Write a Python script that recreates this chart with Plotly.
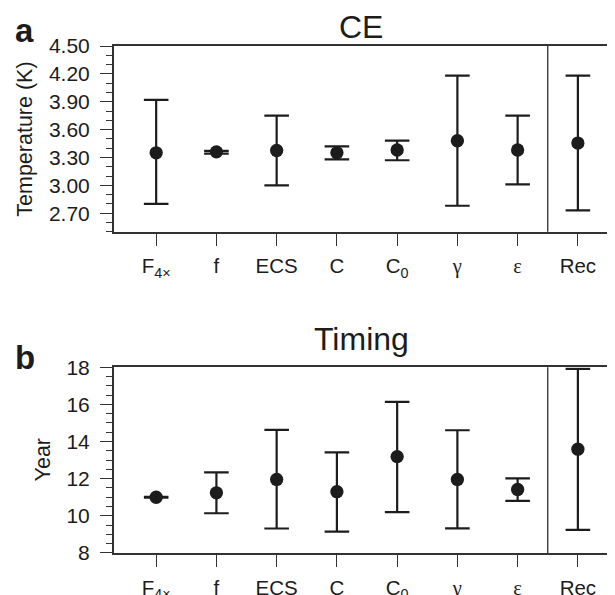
import plotly.graph_objects as go
from plotly.subplots import make_subplots

categories = ["F<sub>4×</sub>", "f", "ECS", "C", "C<sub>0</sub>",
              '<span style="font-family:Liberation Serif">γ</span>',
              '<span style="font-family:Liberation Serif">ε</span>', "Rec"]
positions = [1, 2, 3, 4, 5, 6, 7, 8]

# Panel a: CE (Temperature, K)
ce_mean = [3.35, 3.36, 3.375, 3.35, 3.38, 3.48, 3.38, 3.455]
ce_upper = [3.92, 3.37, 3.75, 3.42, 3.48, 4.18, 3.75, 4.18]
ce_lower = [2.80, 3.34, 3.00, 3.28, 3.27, 2.78, 3.01, 2.73]

# Panel b: Timing (Year)
tm_mean = [11.0, 11.24, 11.96, 11.30, 13.19, 11.96, 11.42, 13.59]
tm_upper = [11.02, 12.34, 14.63, 13.42, 16.14, 14.61, 12.02, 17.91]
tm_lower = [10.98, 10.14, 9.32, 9.15, 10.20, 9.33, 10.81, 9.24]

ink = "#1c1c1c"
axcol = "#333333"
font_family = "Liberation Sans, Arial, sans-serif"

# layout helpers: map reference-image pixels to figure pixels
S = 0.976   # observed capture scale
OFF = 8     # default page body margin
k = 1.0 / S

def fx(x):
    return x * k - OFF

W, H = 622, 602
L = fx(111)
R = W - fx(607)
T = fx(45)
B = H - fx(550)
pw, ph = W - L - R, H - T - B

def px(x):
    return (fx(x) - L) / pw

def py(y):
    return (H - B - fx(y)) / ph

fig = make_subplots(rows=2, cols=1, vertical_spacing=0.0)

def add_panel(mean, upper, lower, row):
    fig.add_trace(go.Scatter(
        x=positions, y=mean, mode="markers",
        marker=dict(size=13 * k, color=ink, symbol="circle"),
        error_y=dict(type="data", symmetric=False,
                     array=[u - m for u, m in zip(upper, mean)],
                     arrayminus=[m - l for m, l in zip(mean, lower)],
                     color=ink, thickness=2.2, width=12 * k),
        showlegend=False, hoverinfo="skip"), row=row, col=1)

add_panel(ce_mean, ce_upper, ce_lower, 1)
add_panel(tm_mean, tm_upper, tm_lower, 2)

ya_dom = [py(230), 1.0]
yb_dom = [0.0, py(365)]

fig.update_xaxes(range=[0.3, 8.5], tickvals=positions, ticktext=categories,
                 ticks="outside", ticklen=12 * k, tickwidth=1.2, tickcolor=axcol,
                 showline=True, linecolor=axcol, linewidth=1.5, mirror=True,
                 showgrid=False, zeroline=False, ticklabelstandoff=3,
                 tickfont=dict(size=20.5, color=ink, family=font_family))

fig.update_yaxes(row=1, col=1, domain=ya_dom, range=[2.5, 4.5], tick0=2.7, dtick=0.3,
                 tickformat=".2f",
                 ticks="outside", ticklen=12 * k, tickwidth=1.2, tickcolor=axcol,
                 minor=dict(dtick=0.1, tick0=2.7, ticks="outside", ticklen=6 * k, tickwidth=1.2, tickcolor=axcol),
                 showline=True, linecolor=axcol, linewidth=1.5, mirror="allticks",
                 showgrid=False, zeroline=False, ticklabelstandoff=6,
                 tickfont=dict(size=21, color=ink, family=font_family))
fig.update_yaxes(row=2, col=1, domain=yb_dom, range=[8, 18], tick0=8, dtick=2,
                 ticks="outside", ticklen=12 * k, tickwidth=1.2, tickcolor=axcol,
                 minor=dict(dtick=0.5, tick0=8, ticks="outside", ticklen=6 * k, tickwidth=1.2, tickcolor=axcol),
                 showline=True, linecolor=axcol, linewidth=1.5, mirror="allticks",
                 showgrid=False, zeroline=False, ticklabelstandoff=6,
                 tickfont=dict(size=21, color=ink, family=font_family))

# separator lines before "Rec"
for xref, yref in [("x", "y domain"), ("x2", "y2 domain")]:
    fig.add_shape(type="line", xref=xref, yref=yref, x0=7.5, x1=7.5, y0=0, y1=1,
                  line=dict(color=ink, width=1.2))

ann = []
ann.append(dict(text="<b>a</b>", x=px(10), y=py(30), xref="paper", yref="paper",
                xanchor="left", yanchor="middle", showarrow=False,
                font=dict(size=33, color=ink, family=font_family)))
ann.append(dict(text="<b>b</b>", x=px(10), y=py(355), xref="paper", yref="paper",
                xanchor="left", yanchor="middle", showarrow=False,
                font=dict(size=33, color=ink, family=font_family)))
ann.append(dict(text="CE", x=px(359), y=py(26), xref="paper", yref="paper",
                xanchor="center", yanchor="middle", showarrow=False,
                font=dict(size=32, color=ink, family=font_family)))
ann.append(dict(text="Timing", x=px(359), y=py(337), xref="paper", yref="paper",
                xanchor="center", yanchor="middle", showarrow=False,
                font=dict(size=32, color=ink, family=font_family)))
ann.append(dict(text="Temperature (K)", x=px(22), y=py(138), xref="paper", yref="paper",
                xanchor="center", yanchor="middle", textangle=-90, showarrow=False,
                font=dict(size=21.5, color=ink, family=font_family)))
ann.append(dict(text="Year", x=px(40), y=py(457.5), xref="paper", yref="paper",
                xanchor="center", yanchor="middle", textangle=-90, showarrow=False,
                font=dict(size=21.5, color=ink, family=font_family)))

fig.update_layout(width=W, height=H, margin=dict(l=L, r=R, t=T, b=B, pad=0),
                  paper_bgcolor="white", plot_bgcolor="white",
                  annotations=ann, font=dict(family=font_family, color=ink))

fig.write_html("out.html", config={"displayModeBar": False})
